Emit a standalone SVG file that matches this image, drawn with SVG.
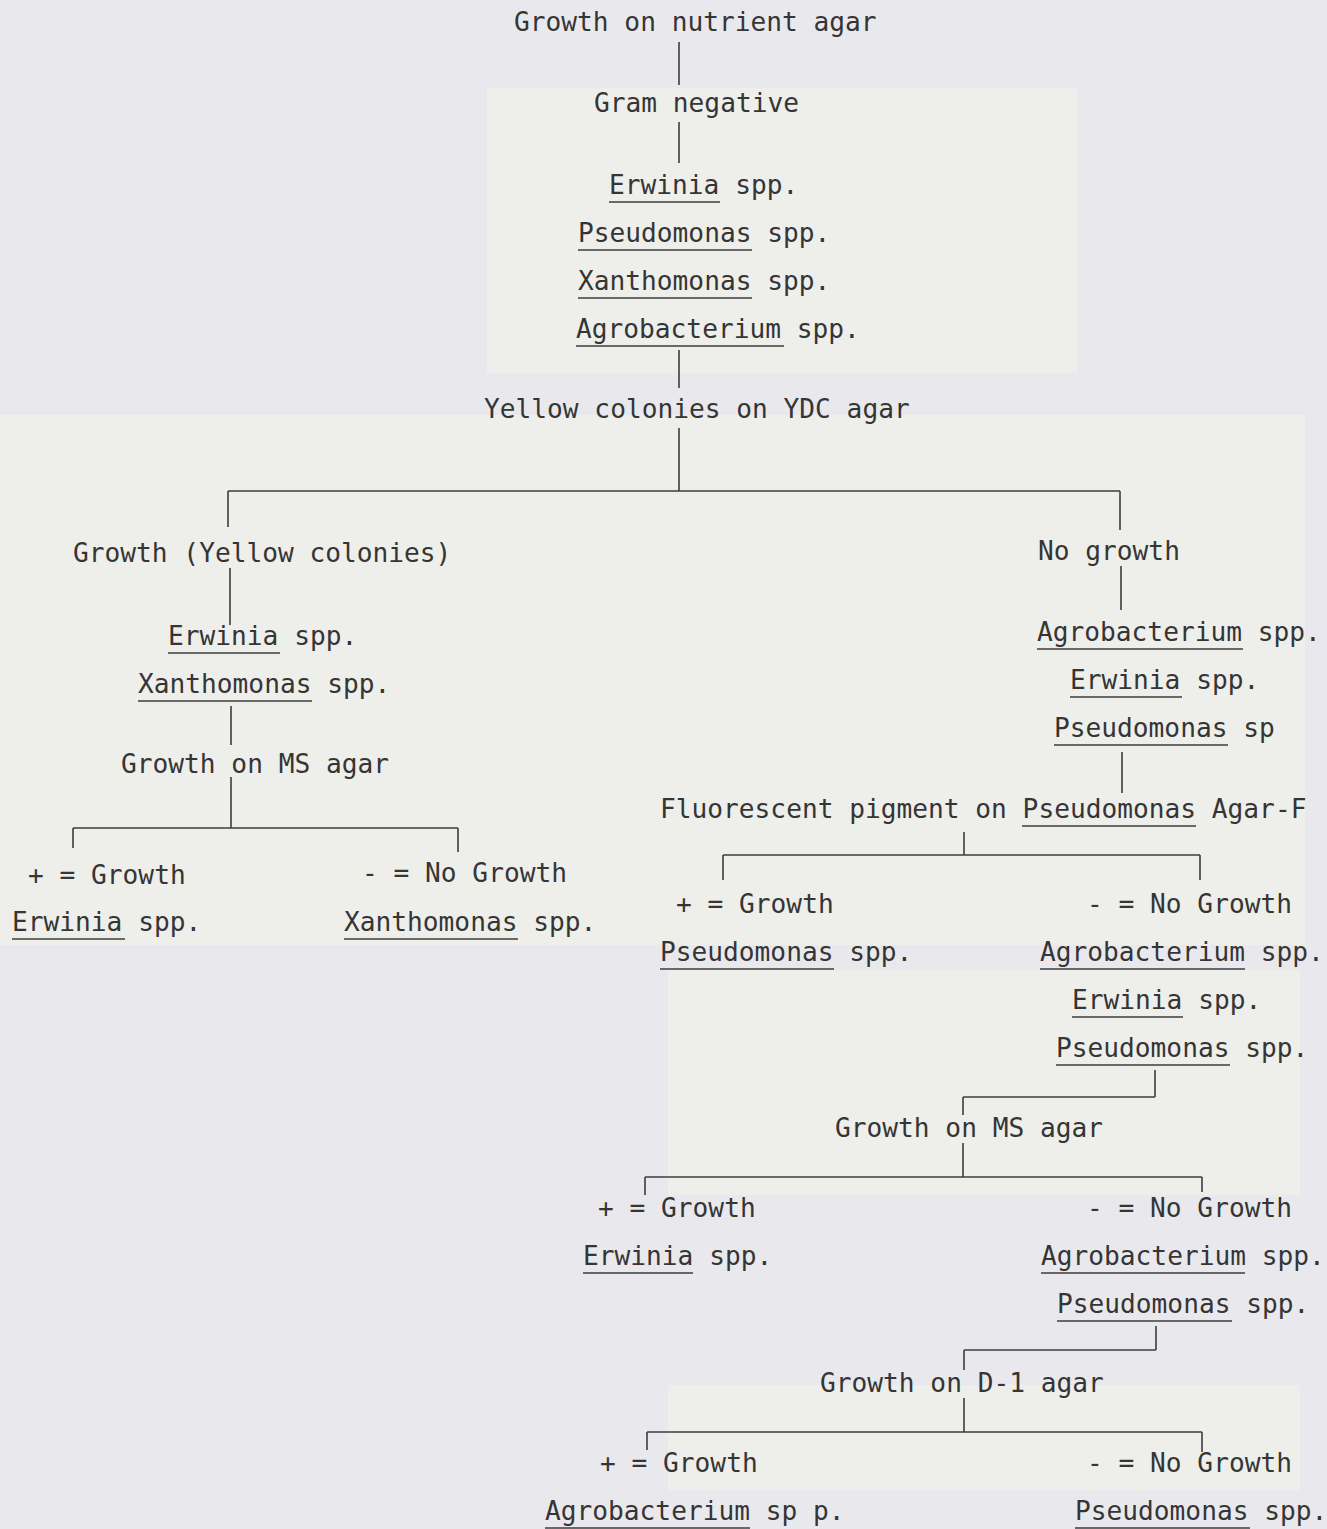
<svg xmlns="http://www.w3.org/2000/svg" width="1327" height="1529" viewBox="0 0 1327 1529">
<style>
text{font-family:"DejaVu Sans Mono","Liberation Mono",monospace;font-size:26.2px;fill:#353535}
.c line{stroke:#3c3c3c;stroke-width:1.6}
.ul{stroke:#3c3c3c;stroke-width:1.6}
</style>
<rect width="1327" height="1529" fill="#e9e9ed"/>
<g fill="#eeeeea">
<rect x="487" y="88" width="590" height="285"/>
<rect x="0" y="415" width="1305" height="530"/>
<rect x="668" y="970" width="632" height="225"/>
<rect x="668" y="1385" width="632" height="105"/>
</g>
<g id="connectors" class="c">
<line x1="679" y1="42" x2="679" y2="85"/>
<line x1="679" y1="122" x2="679" y2="163"/>
<line x1="679" y1="350" x2="679" y2="388"/>
<line x1="679" y1="428" x2="679" y2="491"/>
<line x1="228" y1="491" x2="1120" y2="491"/>
<line x1="228" y1="491" x2="228" y2="527"/>
<line x1="1120" y1="491" x2="1120" y2="530"/>
<line x1="230" y1="568" x2="230" y2="625"/>
<line x1="231" y1="706" x2="231" y2="745"/>
<line x1="231" y1="777" x2="231" y2="828"/>
<line x1="73" y1="828" x2="458" y2="828"/>
<line x1="73" y1="828" x2="73" y2="848"/>
<line x1="458" y1="828" x2="458" y2="852"/>
<line x1="1121" y1="566" x2="1121" y2="610"/>
<line x1="1122" y1="752" x2="1122" y2="793"/>
<line x1="964" y1="832" x2="964" y2="855"/>
<line x1="723" y1="855" x2="1200" y2="855"/>
<line x1="723" y1="855" x2="723" y2="880"/>
<line x1="1200" y1="855" x2="1200" y2="880"/>
<line x1="1155" y1="1070" x2="1155" y2="1097"/>
<line x1="963" y1="1097" x2="1155" y2="1097"/>
<line x1="963" y1="1097" x2="963" y2="1115"/>
<line x1="963" y1="1143" x2="963" y2="1177"/>
<line x1="645" y1="1177" x2="1202" y2="1177"/>
<line x1="645" y1="1177" x2="645" y2="1195"/>
<line x1="1202" y1="1177" x2="1202" y2="1192"/>
<line x1="1156" y1="1326" x2="1156" y2="1350"/>
<line x1="964" y1="1350" x2="1156" y2="1350"/>
<line x1="964" y1="1350" x2="964" y2="1370"/>
<line x1="964" y1="1398" x2="964" y2="1432"/>
<line x1="647" y1="1432" x2="1202" y2="1432"/>
<line x1="647" y1="1432" x2="647" y2="1450"/>
<line x1="1202" y1="1432" x2="1202" y2="1452"/>
</g>
<g id="n-nutrient"><text x="514" y="31">Growth on nutrient agar</text></g>
<g id="n-gram"><text x="594" y="112">Gram negative</text></g>
<g id="n-genera">
<text x="609" y="194">Erwinia spp.</text><line class="ul" x1="609" y1="202" x2="720" y2="202"/>
<text x="578" y="242">Pseudomonas spp.</text><line class="ul" x1="578" y1="250" x2="752" y2="250"/>
<text x="578" y="290">Xanthomonas spp.</text><line class="ul" x1="578" y1="298" x2="752" y2="298"/>
<text x="576" y="338">Agrobacterium spp.</text><line class="ul" x1="576" y1="346" x2="784" y2="346"/>
</g>
<g id="n-ydc"><text x="484" y="418">Yellow colonies on YDC agar</text></g>
<g id="n-growth-yellow"><text x="73" y="562">Growth (Yellow colonies)</text></g>
<g id="n-erw-xan">
<text x="168" y="645">Erwinia spp.</text><line class="ul" x1="168" y1="653" x2="280" y2="653"/>
<text x="138" y="693">Xanthomonas spp.</text><line class="ul" x1="138" y1="701" x2="312" y2="701"/>
</g>
<g id="n-ms1"><text x="121" y="773">Growth on MS agar</text></g>
<g id="n-ms1-pos">
<text x="28" y="884">+ = Growth</text>
<text x="12" y="931">Erwinia spp.</text><line class="ul" x1="12" y1="939" x2="125" y2="939"/>
</g>
<g id="n-ms1-neg">
<text x="362" y="882">- = No Growth</text>
<text x="344" y="931">Xanthomonas spp.</text><line class="ul" x1="344" y1="939" x2="518" y2="939"/>
</g>
<g id="n-nogrowth"><text x="1038" y="560">No growth</text></g>
<g id="n-agr-erw-pse">
<text x="1037" y="641">Agrobacterium spp.</text><line class="ul" x1="1037" y1="649" x2="1243" y2="649"/>
<text x="1070" y="689">Erwinia spp.</text><line class="ul" x1="1070" y1="697" x2="1182" y2="697"/>
<text x="1054" y="737">Pseudomonas sp</text><line class="ul" x1="1054" y1="745" x2="1228" y2="745"/>
</g>
<g id="n-fluor"><text x="660" y="818">Fluorescent pigment on Pseudomonas Agar-F</text><line class="ul" x1="1022" y1="826" x2="1196" y2="826"/></g>
<g id="n-fluor-pos">
<text x="676" y="913">+ = Growth</text>
<text x="660" y="961">Pseudomonas spp.</text><line class="ul" x1="660" y1="969" x2="834" y2="969"/>
</g>
<g id="n-fluor-neg">
<text x="1087" y="913">- = No Growth</text>
<text x="1040" y="961">Agrobacterium spp.</text><line class="ul" x1="1040" y1="969" x2="1245" y2="969"/>
<text x="1072" y="1009">Erwinia spp.</text><line class="ul" x1="1072" y1="1017" x2="1183" y2="1017"/>
<text x="1056" y="1057">Pseudomonas spp.</text><line class="ul" x1="1056" y1="1065" x2="1230" y2="1065"/>
</g>
<g id="n-ms2"><text x="835" y="1137">Growth on MS agar</text></g>
<g id="n-ms2-pos">
<text x="598" y="1217">+ = Growth</text>
<text x="583" y="1265">Erwinia spp.</text><line class="ul" x1="583" y1="1273" x2="693" y2="1273"/>
</g>
<g id="n-ms2-neg">
<text x="1087" y="1217">- = No Growth</text>
<text x="1041" y="1265">Agrobacterium spp.</text><line class="ul" x1="1041" y1="1273" x2="1245" y2="1273"/>
<text x="1057" y="1313">Pseudomonas spp.</text><line class="ul" x1="1057" y1="1321" x2="1232" y2="1321"/>
</g>
<g id="n-d1"><text x="820" y="1392">Growth on D-1 agar</text></g>
<g id="n-d1-pos">
<text x="600" y="1472">+ = Growth</text>
<text x="545" y="1520">Agrobacterium sp p.</text><line class="ul" x1="545" y1="1528" x2="750" y2="1528"/>
</g>
<g id="n-d1-neg">
<text x="1087" y="1472">- = No Growth</text>
<text x="1075" y="1520">Pseudomonas spp.</text><line class="ul" x1="1075" y1="1528" x2="1250" y2="1528"/>
</g>
</svg>
